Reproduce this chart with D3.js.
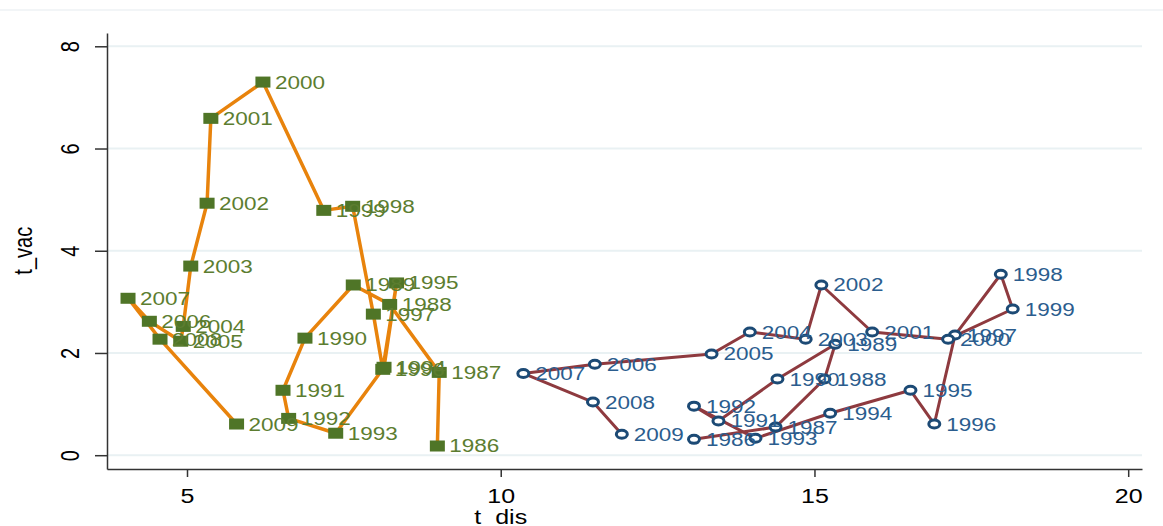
<!DOCTYPE html>
<html>
<head>
<meta charset="utf-8">
<script src="https://cdn.jsdelivr.net/npm/d3@7"></script>
<style>
	body { margin: 0; background: #fff; }
	svg { display: block; font-family: "Liberation Sans", Arial, sans-serif; }
</style>
</head>
<body>
<div id="chart"></div>
<script>
// years for both series (data order = line order)
const years = [1986, 1987, 1988, 1989, 1990, 1991, 1992, 1993, 1994, 1995, 1996, 1997,
	1998, 1999, 2000, 2001, 2002, 2003, 2004, 2005, 2006, 2007, 2008, 2009]

// series A (orange line, green squares)
const disA = [8.99, 9.02, 8.23, 7.65, 6.88, 6.53, 6.62, 7.37, 8.14, 8.34, 8.12, 7.97,
	7.64, 7.18, 6.21, 5.38, 5.32, 5.06, 4.94, 4.90, 4.40, 4.06, 4.57, 5.79]
const vacA = [0.18, 1.62, 2.95, 3.33, 2.29, 1.27, 0.72, 0.43, 1.72, 3.37, 1.68, 2.76,
	4.87, 4.79, 7.30, 6.59, 4.93, 3.70, 2.52, 2.23, 2.62, 3.07, 2.27, 0.61]

// series B (dark red line, blue hollow circles)
const disB = [13.08, 14.38, 15.16, 15.33, 14.41, 13.47, 13.08, 14.06, 15.25, 16.53, 16.91, 17.24,
	17.97, 18.16, 17.13, 15.92, 15.11, 14.86, 13.97, 13.36, 11.50, 10.36, 11.47, 11.93]
const vacB = [0.31, 0.55, 1.49, 2.17, 1.49, 0.67, 0.96, 0.33, 0.82, 1.27, 0.61, 2.35,
	3.54, 2.86, 2.27, 2.41, 3.33, 2.27, 2.41, 1.98, 1.78, 1.60, 1.04, 0.41]

const xTicks = [5, 10, 15, 20]
const yTicks = [0, 2, 4, 6, 8]

const width = 1163
const height = 526
const plot = { left: 107, right: 1142, top: 33, bottom: 469 }
const stretch = 1.25 // the reference text is wider than it is tall

const svg = d3.select("#chart")
	.append("svg")
	.attr("width", width)
	.attr("height", height)

const x = d3.scaleLinear().domain([3.725, 20.22]).range([plot.left, plot.right])
const y = d3.scaleLinear().domain([-0.27, 8.26]).range([plot.bottom, plot.top])

// outer graph region line at top
svg.append("line")
	.attr("x1", 0).attr("x2", width)
	.attr("y1", 10).attr("y2", 10)
	.attr("stroke", "#eef2f4")
	.attr("stroke-width", 1.5)

// gridlines
svg.append("g")
	.selectAll("line")
	.data(yTicks)
	.join("line")
	.attr("x1", plot.left + 1)
	.attr("x2", plot.right)
	.attr("y1", (d) => y(d))
	.attr("y2", (d) => y(d))
	.attr("stroke", "#e9f1f3")
	.attr("stroke-width", 2)

// axes
const xAxis = svg.append("g")
	.attr("transform", `translate(0,${plot.bottom})`)
	.call(d3.axisBottom(x).tickValues(xTicks).tickSize(8).tickSizeOuter(0))
xAxis.select(".domain").attr("stroke", "#333").attr("stroke-width", 1.5)
xAxis.selectAll(".tick line").attr("stroke", "#333").attr("stroke-width", 1.5)
xAxis.selectAll("text")
	.attr("fill", "#000")
	.attr("y", 0).attr("dy", 0)
	.attr("transform", `translate(0,34) scale(${stretch},1)`)
	.style("font-size", "20px")
	.style("font-family", "Liberation Sans, Arial, sans-serif")

const yAxis = svg.append("g")
	.attr("transform", `translate(${plot.left},0)`)
	.call(d3.axisLeft(y).tickValues(yTicks).tickSize(12).tickSizeOuter(0))
yAxis.select(".domain").attr("stroke", "#333").attr("stroke-width", 1.5)
yAxis.selectAll(".tick line").attr("stroke", "#333").attr("stroke-width", 1.5)
yAxis.selectAll("text")
	.attr("fill", "#000")
	.attr("x", 0).attr("dy", 0)
	.attr("text-anchor", "middle")
	.attr("transform", `translate(-35,0) scale(${stretch},1) rotate(-90)`)
	.attr("dominant-baseline", "middle")
	.style("font-size", "20px")
	.style("font-family", "Liberation Sans, Arial, sans-serif")

// axis titles
svg.append("text")
	.attr("transform", `translate(${x(10)},524) scale(${stretch},1)`)
	.attr("text-anchor", "middle")
	.style("font-size", "20px")
	.text("t_dis")

svg.append("text")
	.attr("transform", `translate(32,${y(4)}) scale(${stretch},1) rotate(-90)`)
	.attr("text-anchor", "middle")
	.style("font-size", "20px")
	.text("t_vac")

const line = d3.line()
	.x((d) => x(d.dis))
	.y((d) => y(d.vac))

function drawSeries(dis, vac, opts) {
	const data = years.map((yr, i) => ({ year: yr, dis: dis[i], vac: vac[i] }))
	const g = svg.append("g")

	g.append("path")
		.datum(data)
		.attr("fill", "none")
		.attr("stroke", opts.lineColor)
		.attr("stroke-width", opts.lineWidth)
		.attr("stroke-linejoin", "round")
		.attr("d", line)

	if (opts.square) {
		g.selectAll("rect")
			.data(data)
			.join("rect")
			.attr("x", (d) => x(d.dis) - 7.5)
			.attr("y", (d) => y(d.vac) - 5.5)
			.attr("width", 15)
			.attr("height", 11)
			.attr("fill", opts.markerColor)
	} else {
		g.selectAll("ellipse")
			.data(data)
			.join("ellipse")
			.attr("cx", (d) => x(d.dis))
			.attr("cy", (d) => y(d.vac))
			.attr("rx", 5.5)
			.attr("ry", 4)
			.attr("fill", "#fff")
			.attr("stroke", opts.markerColor)
			.attr("stroke-width", 3)
	}

	g.selectAll("text")
		.data(data)
		.join("text")
		.attr("transform", (d) => `translate(${x(d.dis) + 12},${y(d.vac) + 6.5}) scale(${stretch},1)`)
		.attr("fill", opts.labelColor)
		.style("font-size", "18px")
		.text((d) => d.year)
}

drawSeries(disA, vacA, {
	lineColor: "#e8830c",
	lineWidth: 3.5,
	markerColor: "#4f7527",
	labelColor: "#5c7d30",
	square: true,
})

drawSeries(disB, vacB, {
	lineColor: "#8e3a3f",
	lineWidth: 3,
	markerColor: "#1c4a75",
	labelColor: "#2b5d8e",
	square: false,
})
</script>
</body>
</html>
